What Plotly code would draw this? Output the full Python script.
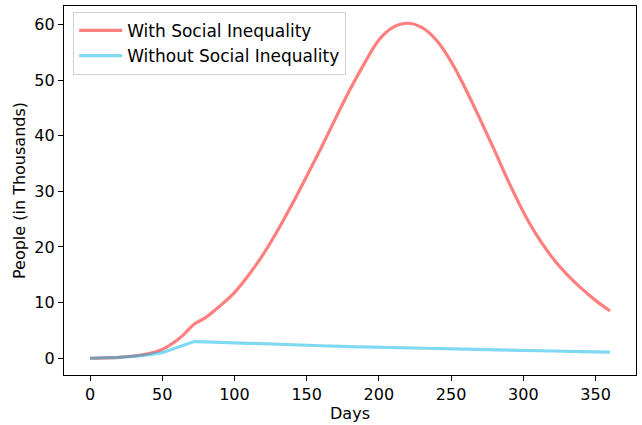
import plotly.graph_objects as go

# Days and case counts (thousands) for the two scenarios
days_with = [0, 10, 20, 30, 40, 50, 60, 65, 72, 80, 90, 100, 110, 120, 130, 140,
             150, 160, 170, 180, 190, 200, 210, 220, 230, 240, 250, 260, 270,
             280, 290, 300, 310, 320, 330, 340, 350, 360]
with_inequality = [0, 0.05, 0.15, 0.4, 0.8, 1.6, 3.2, 4.3, 6.1, 7.3, 9.4, 11.8,
                   15.0, 18.7, 23.0, 27.7, 32.7, 37.8, 43.1, 48.3, 53.0, 57.2,
                   59.5, 60.2, 59.4, 57.1, 53.3, 48.4, 43.0, 37.4, 31.6, 26.3,
                   21.8, 18.1, 15.1, 12.6, 10.4, 8.5]

days_without = [0, 10, 20, 30, 40, 50, 60, 72, 80, 90, 100, 120, 140, 160, 180,
                200, 220, 240, 260, 280, 300, 320, 340, 360]
without_inequality = [0, 0.05, 0.15, 0.35, 0.6, 1.0, 1.85, 3.0, 2.95, 2.85,
                      2.75, 2.6, 2.4, 2.25, 2.1, 1.95, 1.85, 1.75, 1.65, 1.5,
                      1.4, 1.3, 1.2, 1.1]

x_ticks = [0, 50, 100, 150, 200, 250, 300, 350]
y_ticks = [0, 10, 20, 30, 40, 50, 60]

tick_font = dict(family="DejaVu Sans", size=16, color="black")
legend_font = dict(family="DejaVu Sans", size=17, color="black")

fig = go.Figure()
fig.add_trace(go.Scatter(
    x=days_with, y=with_inequality, mode="lines",
    name="With Social Inequality",
    line=dict(color="rgba(255,0,0,0.5)", width=3.2, shape="spline", smoothing=1.0),
))
fig.add_trace(go.Scatter(
    x=days_without, y=without_inequality, mode="lines",
    name="Without Social Inequality",
    line=dict(color="rgba(0,180,230,0.5)", width=3.2),
))

axis_common = dict(
    showline=True, linecolor="black", linewidth=1.3, mirror=True,
    ticks="outside", ticklen=5, tickwidth=1.2, tickcolor="black",
    showgrid=False, zeroline=False, tickfont=tick_font,
)

fig.update_layout(
    width=642, height=425,
    margin=dict(l=64, r=5, t=6, b=48),
    paper_bgcolor="white", plot_bgcolor="white",
    font=tick_font,
    xaxis=dict(range=[-18, 378], tickvals=x_ticks,
               title=dict(text="Days", font=tick_font, standoff=4), **axis_common),
    yaxis=dict(range=[-3.01, 63.3], tickvals=y_ticks,
               title=dict(text="People (in Thousands)", font=tick_font, standoff=4),
               **axis_common),
    legend=dict(x=0.016, y=0.984, xanchor="left", yanchor="top",
                bgcolor="rgba(255,255,255,0.8)", bordercolor="#d0d0d0",
                borderwidth=1, font=legend_font, tracegroupgap=0,
                itemwidth=43),
    showlegend=True,
)

fig.write_html("out.html")
